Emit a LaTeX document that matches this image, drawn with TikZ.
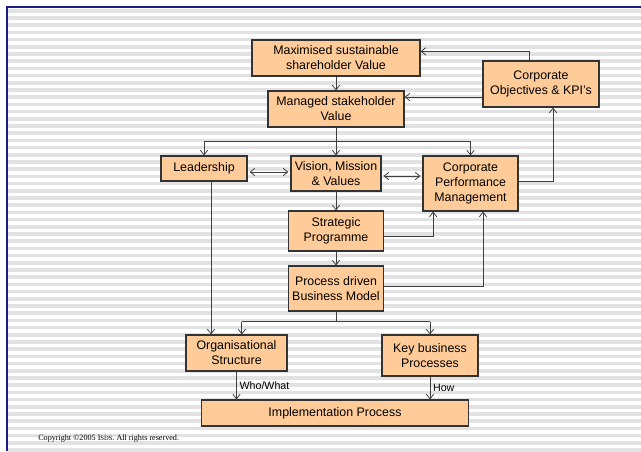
\documentclass[tikz,border=0pt]{standalone}
\usepackage{fontspec}
\setmainfont{Liberation Sans}
\newfontfamily\copyfont{Liberation Serif}
\usepackage{xcolor}
\usepackage{tikz}
\usetikzlibrary{arrows.meta,positioning,calc}

\definecolor{peach}{HTML}{FFCC99}
\definecolor{frameblue}{HTML}{1C1C8C}
\definecolor{stripe}{HTML}{E2E2E2}

\begin{document}
\begin{tikzpicture}[
    x=0.75pt, y=-0.75pt,
    box/.style={rectangle, draw=black!80, line width=0.8pt, fill=peach, align=center, inner sep=0pt, font=\fontsize{9.3}{11.25}\selectfont},
    arrow/.style={-{Straight Barb[length=3.5pt,width=5.5pt]}, draw=black!75, line width=0.6pt},
    dbl/.style={{Straight Barb[length=3.5pt,width=5.5pt]}-{Straight Barb[length=3.5pt,width=5.5pt]}, draw=black!75, line width=0.6pt, shorten <=1.5pt, shorten >=1.5pt},
    wire/.style={draw=black!75, line width=0.6pt},
    lbl/.style={font=\fontsize{8}{9}\selectfont, inner sep=2pt}
]

% Background with stripes and frame
\useasboundingbox (0,0) rectangle (641,451);
\fill[white] (0,0) rectangle (641,451);
\foreach \i in {0,...,61}
    \fill[stripe] (8,{9+7.2*\i}) rectangle (641,{9+7.2*\i+3.6});
\draw[frameblue, line width=1.6pt] (7,451) -- (7,7) -- (641,7);

% Top values
\node[box, minimum width=126pt, minimum height=27pt] (maxval) at (336,58) {Maximised sustainable\\shareholder Value};
\node[box, minimum width=102pt, minimum height=27pt] (stake) at (336,109) {Managed stakeholder\\Value};

% Objectives
\node[box, minimum width=87pt, minimum height=34.5pt] (kpi) at (541,84) {Corporate\\Objectives \& KPI's};

% Middle row
\node[box, minimum width=64.5pt, minimum height=18.75pt] (leader) at (204,168.5) {Leadership};
\node[box, minimum width=67.5pt, minimum height=26.25pt] (vision) at (336,173.5) {Vision, Mission\\\& Values};
\node[box, minimum width=71.25pt, minimum height=41.25pt] (perf) at (470.5,183.5) {Corporate\\Performance\\Management};

% Programme and model
\node[box, minimum width=71.25pt, minimum height=30pt] (strat) at (336,231) {Strategic\\Programme};
\node[box, minimum width=71.25pt, minimum height=33.75pt] (model) at (336,288.5) {Process driven\\Business Model};

% Structure and processes
\node[box, minimum width=75.75pt, minimum height=27pt] (org) at (236.5,353) {Organisational\\Structure};
\node[box, minimum width=72pt, minimum height=30.75pt] (keyproc) at (430,355.5) {Key business\\Processes};

% Implementation
\node[box, minimum width=200.25pt, minimum height=19.5pt] (impl) at (335,413) {Implementation Process};

% Branch points
\coordinate (split) at ($(stake.south)+(0,14)$);
\coordinate (split2) at ($(model.south)+(0,10)$);
\coordinate (orgin) at ([xshift=4pt]org.north);

% Arrows
\draw[arrow] (maxval) -- (stake);
\draw[wire] (stake.south) -- (split);
\draw[wire] (split -| leader.north) -- (split -| perf.north);
\draw[arrow] (split -| leader.north) -- (leader.north);
\draw[arrow] (split) -- (vision.north);
\draw[arrow] (split -| perf.north) -- (perf.north);
\draw[dbl] ([yshift=-2.6pt]leader.east) -- ([yshift=-2.6pt]leader.east -| vision.west);
\draw[dbl] ([yshift=-1.9pt]vision.east) -- ([yshift=-1.9pt]vision.east -| perf.west);
\draw[arrow] (vision) -- (strat);
\draw[arrow] (strat) -- (model);
\draw[arrow] ([yshift=-3.75pt]strat.east) -| ([xshift=-28pt]perf.south);
\draw[arrow] ([yshift=1.9pt]model.east) -| ([xshift=9.4pt]perf.south);
\draw[arrow] ([yshift=1.9pt]perf.east) -| ([xshift=9pt]kpi.south);
\draw[arrow] ([xshift=-9pt]kpi.north) |- ([yshift=5pt]maxval.east);
\draw[arrow] ([yshift=-9.75pt]kpi.west) -- ([yshift=-9.75pt]kpi.west -| stake.east);

% Lower branches
\draw[wire] (model.south) -- (split2);
\draw[wire] (split2 -| orgin) -- (split2 -| keyproc.north);
\draw[arrow] (split2 -| orgin) -- (orgin);
\draw[arrow] (split2 -| keyproc.north) -- (keyproc.north);
\draw[arrow] ([xshift=5.25pt]leader.south) -- ([xshift=5.25pt]leader.south |- org.north);
\draw[arrow] (org.south) -- (org.south |- impl.north) node[lbl, right, midway] {Who/What};
\draw[arrow] (keyproc.south) -- (keyproc.south |- impl.north) node[lbl, right, midway] {How};

% Copyright
\node[anchor=base west, inner sep=0pt, font=\copyfont\fontsize{6.1}{7}\selectfont] (copy) at (38,440) {Copyright \textcopyright2005 I{\fontsize{4.9}{5}\selectfont SDS}. All rights reserved.};

\end{tikzpicture}
\end{document}
